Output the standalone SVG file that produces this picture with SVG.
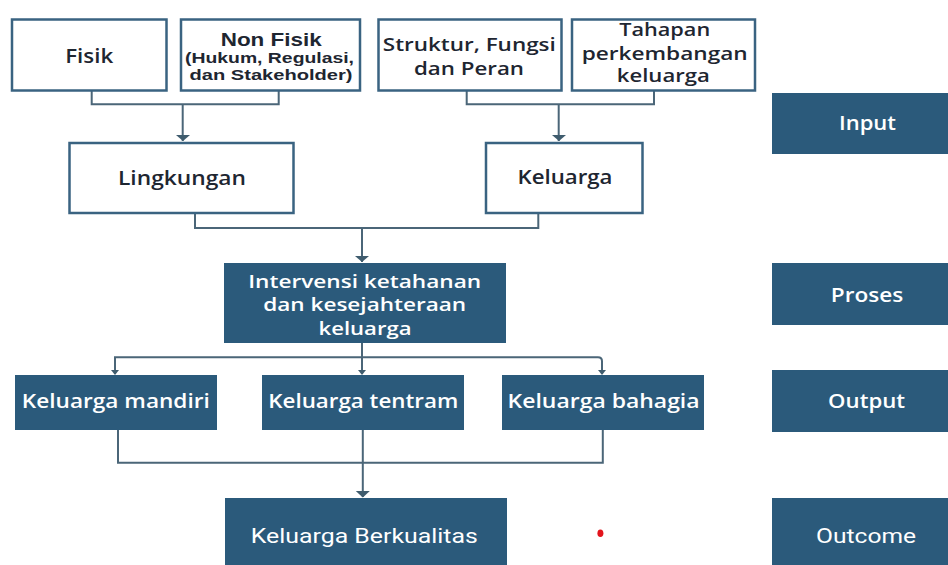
<svg xmlns="http://www.w3.org/2000/svg" width="948" height="565" viewBox="0 0 948 565">
<style>
.wb{fill:#fff;stroke:#3a6381;stroke-width:2.5}
.db{fill:#2b5a7b}
.t{font-family:"Open Sans","DejaVu Sans",sans-serif;font-weight:600;font-size:20px;text-anchor:middle}
.dk{fill:#1e2631}
.wt{fill:#fff}
.md{font-size:18px}
.nf{font-family:"Liberation Sans",Arial,sans-serif;font-weight:700;font-size:18px}
.sm{font-family:"Liberation Sans",Arial,sans-serif;font-weight:700;font-size:15px}
.cn{font-family:Roboto,"Liberation Sans",sans-serif;font-weight:400;font-size:21px}
.ln{fill:none;stroke:#4b6678;stroke-width:2}
.ar{fill:#3f5c6e}
</style>
<rect width="948" height="565" fill="#fff"/>
<g id="connectors">
<path class="ln" d="M91.7,91 V104.3 H278.7 V91"/>
<path class="ln" d="M466.7,91 V104.3 H654 V91"/>
<path class="ln" d="M195,213 V228 H538.3 V213"/>
<path class="ln" d="M118,430 V462.7 H602.8 V430"/>
<path class="ln" d="M115,374 V357.3 H598 Q602,357.3 602,361.3 V374"/>
<path class="ln" d="M362,343 V374"/>
<path class="ln" d="M182.7,104.3 V141"/>
<path class="ln" d="M558.7,104.3 V141"/>
<path class="ln" d="M362,228 V262"/>
<path class="ln" d="M362.8,430 V497"/>
<path class="ar" d="M176,135 H190 L183,141 Z"/>
<path class="ar" d="M552,135 H566 L559,141 Z"/>
<path class="ar" d="M355,256 H369 L362,262 Z"/>
<path class="ar" d="M355.8,491 H369.8 L362.8,497.5 Z"/>
<path class="ar" d="M111,370 H119 L115,375 Z"/>
<path class="ar" d="M358,370 H366 L362,375 Z"/>
<path class="ar" d="M598,370 H606 L602,375 Z"/>
</g>
<g id="fisik"><rect class="wb" x="12" y="19.5" width="154.5" height="71"/><text class="t dk" x="89.2" y="63.3" textLength="48" lengthAdjust="spacingAndGlyphs">Fisik</text></g>
<g id="nonfisik"><rect class="wb" x="181" y="19.5" width="179" height="71"/>
<text class="t dk nf" x="271.2" y="45.7" textLength="101" lengthAdjust="spacingAndGlyphs">Non Fisik</text>
<text class="t dk sm" x="269.5" y="63.3" textLength="169" lengthAdjust="spacingAndGlyphs">(Hukum, Regulasi,</text>
<text class="t dk sm" x="271" y="80" textLength="163" lengthAdjust="spacingAndGlyphs">dan Stakeholder)</text></g>
<g id="struktur"><rect class="wb" x="378.5" y="19.5" width="183" height="71"/>
<text class="t dk md" x="469.3" y="50.7" textLength="173" lengthAdjust="spacingAndGlyphs">Struktur, Fungsi</text>
<text class="t dk md" x="469" y="75" textLength="110" lengthAdjust="spacingAndGlyphs">dan Peran</text></g>
<g id="tahapan"><rect class="wb" x="572" y="19.5" width="183" height="71"/>
<text class="t dk md" x="664.7" y="36" textLength="91" lengthAdjust="spacingAndGlyphs">Tahapan</text>
<text class="t dk md" x="664.7" y="60" textLength="166" lengthAdjust="spacingAndGlyphs">perkembangan</text>
<text class="t dk md" x="663.3" y="81.7" textLength="93" lengthAdjust="spacingAndGlyphs">keluarga</text></g>
<g id="lingkungan"><rect class="wb" x="69.5" y="143" width="224" height="70"/><text class="t dk" x="182" y="185" textLength="128" lengthAdjust="spacingAndGlyphs">Lingkungan</text></g>
<g id="keluarga"><rect class="wb" x="486" y="143" width="156.5" height="70"/><text class="t dk" x="565" y="184.3" textLength="95" lengthAdjust="spacingAndGlyphs">Keluarga</text></g>
<g id="intervensi"><rect class="db" x="224" y="263" width="282" height="80"/>
<text class="t wt md" x="364.7" y="288.3" textLength="233" lengthAdjust="spacingAndGlyphs">Intervensi ketahanan</text>
<text class="t wt md" x="364.7" y="311" textLength="203" lengthAdjust="spacingAndGlyphs">dan kesejahteraan</text>
<text class="t wt md" x="365" y="335" textLength="93" lengthAdjust="spacingAndGlyphs">keluarga</text></g>
<g id="mandiri"><rect class="db" x="15" y="375" width="202" height="55"/><text class="t wt" x="115.8" y="408.3" textLength="188" lengthAdjust="spacingAndGlyphs">Keluarga mandiri</text></g>
<g id="tentram"><rect class="db" x="262" y="375" width="202" height="55"/><text class="t wt" x="363.3" y="408.3" textLength="190" lengthAdjust="spacingAndGlyphs">Keluarga tentram</text></g>
<g id="bahagia"><rect class="db" x="502" y="375" width="202" height="55"/><text class="t wt" x="603.6" y="408.3" textLength="192" lengthAdjust="spacingAndGlyphs">Keluarga bahagia</text></g>
<g id="berkualitas"><rect class="db" x="225" y="498" width="282" height="67"/><text class="t cn wt" x="364.3" y="543.3" textLength="227" lengthAdjust="spacingAndGlyphs">Keluarga Berkualitas</text></g>
<g id="input"><rect class="db" x="772" y="93" width="176" height="61"/><text class="t wt" x="867.5" y="130" textLength="57" lengthAdjust="spacingAndGlyphs">Input</text></g>
<g id="proses"><rect class="db" x="772" y="263" width="176" height="62"/><text class="t wt" x="867" y="301.7" textLength="72.5" lengthAdjust="spacingAndGlyphs">Proses</text></g>
<g id="output"><rect class="db" x="772" y="370" width="176" height="62"/><text class="t wt" x="866.6" y="408.3" textLength="77" lengthAdjust="spacingAndGlyphs">Output</text></g>
<g id="outcome"><rect class="db" x="772" y="498" width="176" height="67"/><text class="t cn wt" x="866" y="543.3" textLength="100" lengthAdjust="spacingAndGlyphs">Outcome</text></g>
<ellipse cx="600.4" cy="533.3" rx="3" ry="3.8" fill="#e3141c"/>
</svg>
